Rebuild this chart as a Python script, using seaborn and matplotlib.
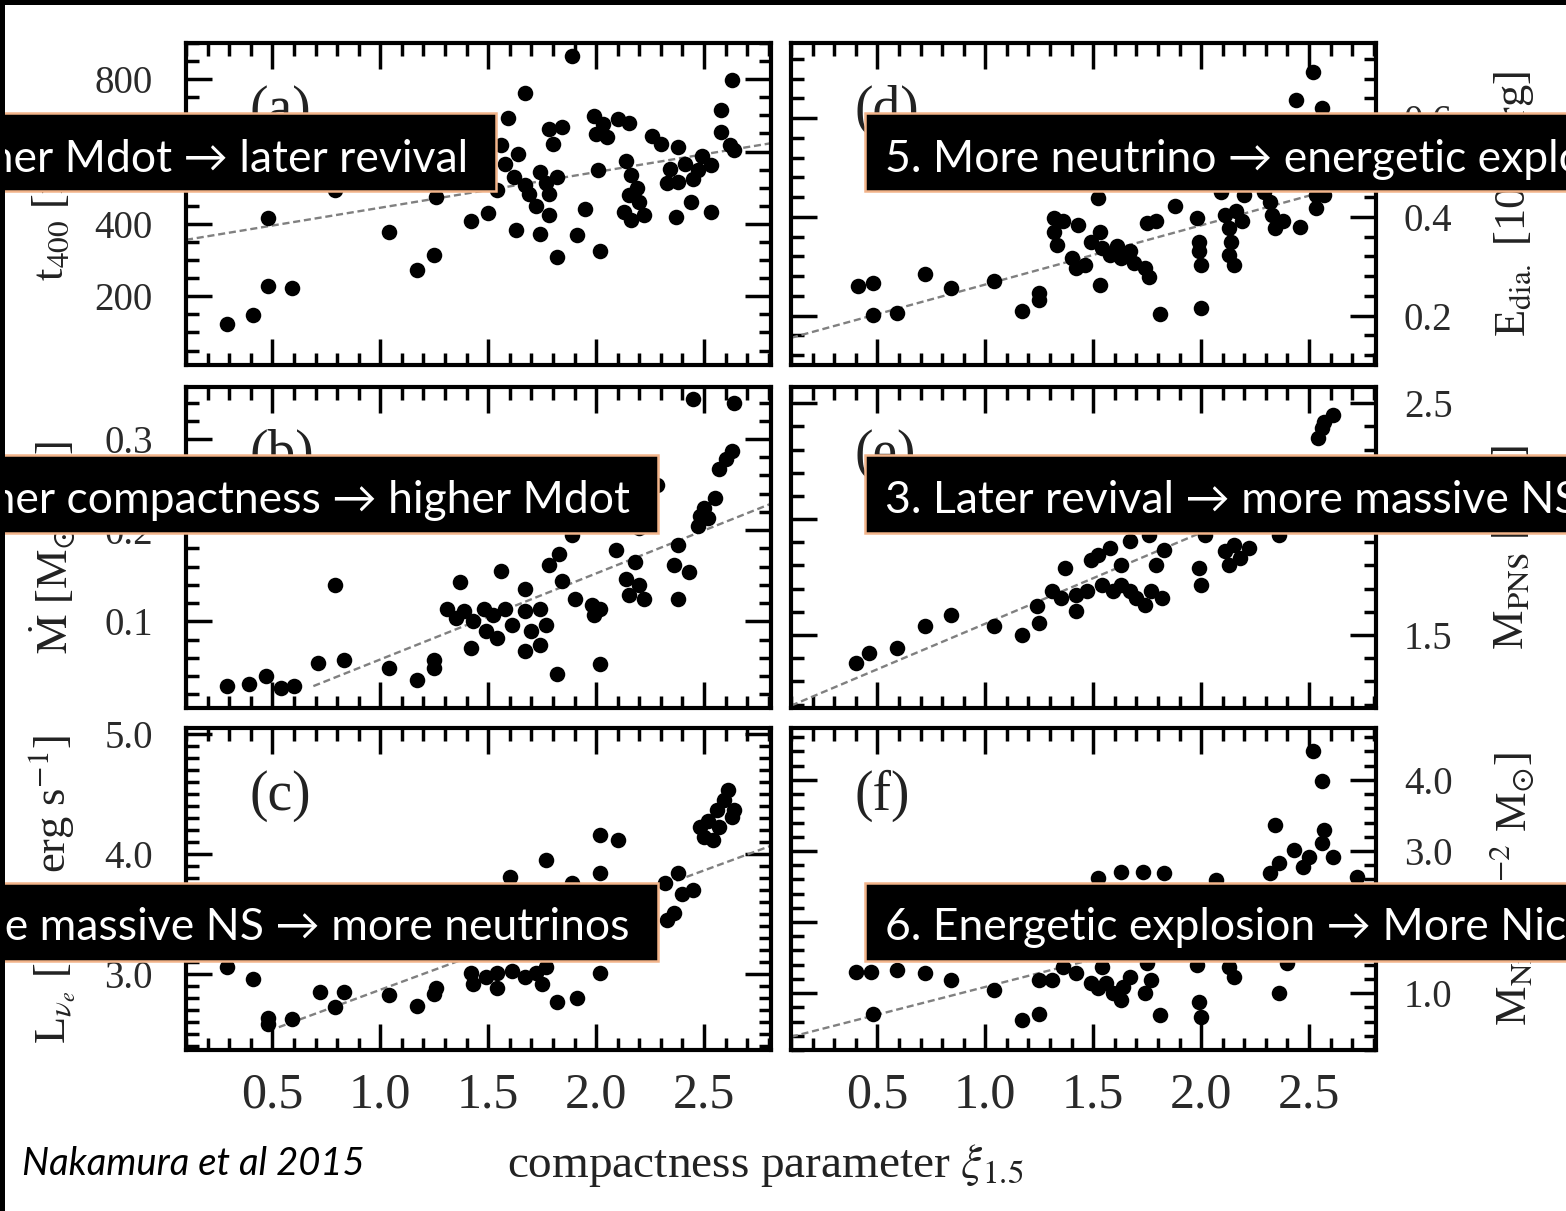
import matplotlib
matplotlib.use("Agg")
import matplotlib.pyplot as plt
from matplotlib.patches import Rectangle
from matplotlib.ticker import MultipleLocator, AutoMinorLocator, FormatStrFormatter
import seaborn as sns

# ---------------- data ----------------
# (a) t_400 [ms] vs compactness
a_x = [0.29, 0.41, 0.48, 0.59, 0.48, 0.79, 1.04, 1.17, 1.25, 1.26,
       1.42, 1.50, 1.54, 1.59, 1.67, 1.63, 1.74, 1.82, 1.91, 2.02,
       1.95, 1.72, 1.78, 1.89, 2.63, 2.58, 2.58, 2.62, 2.64, 1.56,
       1.58, 1.62, 1.64, 1.67, 1.69, 1.74, 1.77, 1.82, 1.78, 1.78,
       1.80, 1.84, 1.99, 2.00, 2.03, 2.05, 2.10, 2.15, 2.01, 2.14,
       2.16, 2.19, 2.20, 2.13, 2.16, 2.22, 2.15, 2.26, 2.30, 2.38,
       2.34, 2.33, 2.41, 2.47, 2.49, 2.53, 2.45, 2.37, 2.44, 2.53,
       2.38]
a_y = [124, 149, 229, 224, 416, 493, 377, 272, 313, 473,
       407, 429, 493, 692, 763, 384, 372, 308, 368, 324,
       441, 450, 425, 863, 799, 715, 653, 617, 603, 617,
       566, 530, 594, 507, 484, 544, 512, 530, 484, 662,
       621, 667, 699, 649, 676, 639, 690, 679, 548, 575,
       534, 498, 461, 434, 411, 425, 480, 644, 621, 612,
       553, 512, 566, 548, 589, 562, 525, 418, 461, 434,
       516]
fit_a_x = [0.10, 2.81]
fit_a_y = [356, 623]

# (b) Mdot [Msun/s]
b_x = [0.29, 0.39, 0.47, 0.54, 0.60, 0.71, 0.83, 0.79, 1.04, 1.17,
       1.25, 1.25, 1.37, 1.42, 1.56, 1.67, 1.82, 2.02, 1.31, 1.35,
       1.39, 1.43, 1.48, 1.49, 1.54, 1.52, 1.58, 1.61, 1.67, 1.70,
       1.74, 1.77, 1.67, 1.74, 1.78, 1.83, 1.84, 1.89, 1.90, 1.98,
       1.99, 2.02, 2.09, 2.14, 2.15, 2.18, 2.20, 2.22, 2.20, 2.28,
       2.38, 2.38, 2.43, 2.36, 2.47, 2.50, 2.52, 2.48, 2.55, 2.57,
       2.60, 2.63, 2.64, 2.45]
b_y = [0.029, 0.031, 0.040, 0.027, 0.029, 0.054, 0.058, 0.140, 0.049, 0.036,
       0.058, 0.049, 0.143, 0.071, 0.155, 0.136, 0.042, 0.053, 0.114, 0.104,
       0.111, 0.100, 0.114, 0.089, 0.082, 0.107, 0.114, 0.096, 0.111, 0.089,
       0.114, 0.096, 0.067, 0.074, 0.162, 0.174, 0.144, 0.195, 0.125, 0.118,
       0.107, 0.114, 0.178, 0.147, 0.129, 0.165, 0.140, 0.125, 0.202, 0.249,
       0.184, 0.125, 0.154, 0.162, 0.205, 0.224, 0.213, 0.216, 0.235, 0.267,
       0.278, 0.287, 0.340, 0.344]
fit_b_x = [0.69, 2.81]
fit_b_y = [0.029, 0.229]

# (c) L_nue [1e52 erg/s]
c_x = [0.29, 0.41, 0.48, 0.48, 0.59, 0.72, 0.83, 0.79, 1.04, 1.17,
       1.25, 1.26, 1.42, 1.43, 1.49, 1.54, 1.54, 1.61, 1.67, 1.72,
       1.75, 1.77, 1.82, 1.91, 2.02, 1.60, 1.77, 1.89, 2.02, 2.02,
       2.10, 2.32, 2.38, 2.40, 2.45, 2.36, 2.33, 2.48, 2.52, 2.56,
       2.59, 2.61, 2.63, 2.54, 2.50, 2.64, 2.57]
c_y = [3.06, 2.96, 2.64, 2.59, 2.63, 2.85, 2.85, 2.73, 2.83, 2.74,
       2.84, 2.89, 3.01, 2.92, 2.98, 2.89, 3.01, 3.03, 2.98, 3.01,
       2.92, 3.06, 2.77, 2.80, 3.01, 3.81, 3.95, 3.76, 3.84, 4.16,
       4.12, 3.76, 3.84, 3.67, 3.70, 3.51, 3.45, 4.23, 4.28, 4.37,
       4.45, 4.53, 4.31, 4.12, 4.14, 4.37, 4.23]
fit_c_x = [0.53, 2.81]
fit_c_y = [2.56, 4.07]

# (d) E_dia [1e51 erg]
d_x = [0.41, 0.48, 0.48, 0.59, 0.72, 0.84, 1.04, 1.17, 1.25, 1.25,
       1.53, 1.81, 2.00, 2.52, 2.44, 2.56, 1.52, 1.32, 1.36, 1.32,
       1.43, 1.33, 1.40, 1.42, 1.46, 1.49, 1.53, 1.54, 1.58, 1.61,
       1.63, 1.67, 1.69, 1.74, 1.76, 1.75, 1.79, 1.88, 1.98, 1.99,
       1.99, 2.00, 2.11, 2.13, 2.14, 2.13, 2.15, 2.16, 2.19, 2.20,
       2.32, 2.33, 2.34, 2.38, 2.46, 2.53, 2.53, 2.09, 2.29, 2.57]
d_y = [0.259, 0.266, 0.202, 0.205, 0.284, 0.256, 0.271, 0.209, 0.232, 0.246,
       0.263, 0.203, 0.216, 0.694, 0.636, 0.620, 0.438, 0.397, 0.391, 0.370,
       0.384, 0.343, 0.316, 0.296, 0.303, 0.350, 0.370, 0.337, 0.323, 0.340,
       0.316, 0.330, 0.306, 0.296, 0.279, 0.387, 0.391, 0.421, 0.397, 0.350,
       0.330, 0.303, 0.404, 0.377, 0.350, 0.323, 0.303, 0.411, 0.391, 0.444,
       0.431, 0.404, 0.377, 0.391, 0.380, 0.418, 0.444, 0.451, 0.451, 0.444]
fit_d_x = [0.10, 2.81]
fit_d_y = [0.155, 0.480]

# (e) M_PNS [Msun]
e_x = [0.40, 0.46, 0.59, 0.72, 0.84, 1.04, 1.17, 1.25, 1.24, 1.31,
       1.35, 1.37, 1.42, 1.42, 1.47, 1.49, 1.52, 1.54, 1.58, 1.59,
       1.63, 1.63, 1.67, 1.67, 1.70, 1.74, 1.77, 1.79, 1.82, 1.83,
       1.99, 2.00, 2.11, 2.15, 2.18, 2.22, 2.13, 2.36, 2.54, 2.56,
       2.57, 2.61, 2.02, 1.76]
e_y = [1.379, 1.422, 1.444, 1.537, 1.588, 1.537, 1.502, 1.552, 1.624, 1.688,
       1.660, 1.789, 1.602, 1.674, 1.688, 1.825, 1.846, 1.717, 1.875, 1.688,
       1.717, 1.803, 1.904, 1.688, 1.660, 1.631, 1.688, 1.803, 1.660, 1.868,
       1.789, 1.717, 1.861, 1.889, 1.832, 1.875, 1.803, 1.932, 2.349, 2.392,
       2.421, 2.450, 1.932, 1.932]
fit_e_x = [0.10, 2.81]
fit_e_y = [1.195, 2.26]

# (f) M_Ni [1e-2 Msun]
f_x = [0.40, 0.47, 0.59, 0.72, 0.84, 0.48, 1.04, 1.17, 1.25, 1.25,
       1.31, 1.36, 1.42, 1.49, 1.52, 1.56, 1.59, 1.63, 1.64, 1.67,
       1.74, 1.77, 1.75, 1.54, 1.63, 1.73, 1.83, 1.52, 1.81, 1.99,
       2.00, 1.98, 2.13, 2.15, 2.07, 2.36, 2.40, 2.34, 2.32, 2.36,
       2.43, 2.47, 2.50, 2.56, 2.57, 2.61, 2.56, 2.52, 2.72]
f_y = [1.30, 1.30, 1.32, 1.28, 1.18, 0.71, 1.04, 0.62, 0.71, 1.18,
       1.18, 1.37, 1.28, 1.14, 1.07, 1.14, 1.00, 0.90, 1.09, 1.23,
       1.00, 1.18, 1.42, 1.37, 2.71, 2.71, 2.69, 2.62, 0.69, 0.88,
       0.67, 1.39, 1.37, 1.23, 2.59, 1.00, 1.42, 3.37, 2.69, 2.83,
       3.01, 2.78, 2.92, 3.11, 3.30, 2.92, 3.99, 4.40, 2.64]
fit_f_x = [0.10, 2.81]
fit_f_y = [0.385, 2.50]

x_ticks_fmt = "%.1f"
xlabel_text = r"compactness parameter $\xi_{1.5}$"
box_texts = [
    "2. Higher Mdot \u2192 later revival",
    "1. Higher compactness \u2192 higher Mdot",
    "4. More massive NS \u2192 more neutrinos",
    "3. Later revival \u2192 more massive NS",
    "5. More neutrino \u2192 energetic explosion",
    "6. Energetic explosion \u2192 More Nickel",
]
credit = "Nakamura et al 2015"

# ---------------- style ----------------
sns.set_theme(style="ticks")
plt.rcParams["font.family"] = ["Liberation Serif", "DejaVu Serif"]
plt.rcParams["mathtext.fontset"] = "stix"

W, H = 1566, 1211
fig = plt.figure(figsize=(W / 100, H / 100), dpi=100, facecolor="white")


def rect(px0, py0, px1, py1):
    return [px0 / W, 1 - py1 / H, (px1 - px0) / W, (py1 - py0) / H]


LX0, LX1 = 186, 771
RX0, RX1 = 791, 1376
ROWS = [(43, 365), (387, 708), (728, 1050)]

panels = [
    dict(x=a_x, y=a_y, fx=fit_a_x, fy=fit_a_y, col="L", row=0, ylim=(10, 900),
         major=200, nminor=4, fmt="%d", letter="(a)", ylabel=r"t$_{400}$ [ms]"),
    dict(x=b_x, y=b_y, fx=fit_b_x, fy=fit_b_y, col="L", row=1, ylim=(0.005, 0.357),
         major=0.1, nminor=5, fmt="%.1f", letter="(b)",
         ylabel=r"$\dot{\rm M}$ [M$_{\odot}$ s$^{-1}$]"),
    dict(x=c_x, y=c_y, fx=fit_c_x, fy=fit_c_y, col="L", row=2, ylim=(2.37, 5.05),
         major=1.0, nminor=10, fmt="%.1f", letter="(c)",
         ylabel=r"L$_{\nu_e}$ [10$^{52}$ erg s$^{-1}$]"),
    dict(x=d_x, y=d_y, fx=fit_d_x, fy=fit_d_y, col="R", row=0, ylim=(0.10, 0.752),
         major=0.2, nminor=5, fmt="%.1f", letter="(d)",
         ylabel=r"E$_{\rm dia.}$ [10$^{51}$ erg]"),
    dict(x=e_x, y=e_y, fx=fit_e_x, fy=fit_e_y, col="R", row=1, ylim=(1.185, 2.57),
         major=0.5, nminor=5, fmt="%.1f", letter="(e)",
         ylabel=r"M$_{\rm PNS}$ [M$_{\odot}$]"),
    dict(x=f_x, y=f_y, fx=fit_f_x, fy=fit_f_y, col="R", row=2, ylim=(0.2, 4.73),
         major=1.0, nminor=5, fmt="%.1f", letter="(f)",
         ylabel=r"M$_{\rm Ni}$ [10$^{-2}$ M$_{\odot}$]"),
]

tick_col = "#2a2a2a"
for p in panels:
    x0, x1 = (LX0, LX1) if p["col"] == "L" else (RX0, RX1)
    y0, y1 = ROWS[p["row"]]
    ax = fig.add_axes(rect(x0, y0, x1, y1))
    ax.set_facecolor("white")
    n = min(len(p["x"]), len(p["y"]))
    sns.scatterplot(x=p["x"][:n], y=p["y"][:n], ax=ax, color="black", s=125,
                    linewidth=0, zorder=3)
    ax.plot(p["fx"], p["fy"], color="#808080", lw=1.7, ls=(0, (3, 1.6)), zorder=2)
    ax.set_xlim(0.10, 2.81)
    ax.set_ylim(*p["ylim"])
    ax.xaxis.set_major_locator(MultipleLocator(0.5))
    ax.xaxis.set_minor_locator(AutoMinorLocator(5))
    ax.xaxis.set_major_formatter(FormatStrFormatter(x_ticks_fmt))
    ax.yaxis.set_major_locator(MultipleLocator(p["major"]))
    ax.yaxis.set_minor_locator(AutoMinorLocator(p["nminor"]))
    ax.yaxis.set_major_formatter(FormatStrFormatter(p["fmt"]))
    ax.tick_params(which="both", direction="in", top=True, bottom=True,
                   left=True, right=True, width=2.5, color="black",
                   labelcolor=tick_col)
    ax.tick_params(which="major", length=19)
    ax.tick_params(which="minor", length=9)
    ax.tick_params(axis="x", labelbottom=(p["row"] == 2), labeltop=False,
                   labelsize=36, pad=16)
    if p["col"] == "L":
        ax.tick_params(axis="y", labelleft=True, labelright=False,
                       labelsize=28, pad=24)
    else:
        ax.tick_params(axis="y", labelleft=False, labelright=True,
                       labelsize=28, pad=20)
    for sp in ax.spines.values():
        sp.set_linewidth(3)
        sp.set_color("black")
    ax.set_xlabel("")
    ax.set_ylabel("")
    ax.text(0.108, 0.87, p["letter"], transform=ax.transAxes, fontsize=40,
            ha="left", va="top", color="#222222", zorder=4)
    lab_x = 52 if p["col"] == "L" else 1512
    fig.text(lab_x / W, 1 - (y0 + y1) / 2 / H, p["ylabel"], rotation=90,
             ha="center", va="center", fontsize=32, color="#222222")

fig.text(765 / W, 1 - 1177 / H, xlabel_text, ha="center", va="baseline",
         fontsize=34, color="#222222")

# ---------------- slide overlay ----------------
edge = "#f2b48a"
box_specs = [
    # (x0, y0, x1, y1, text x, baseline y, align)
    (-20, 113, 496, 191, 468, 172, "right"),
    (-20, 455, 658, 533, 630, 513, "right"),
    (-20, 883, 658, 961, 630, 940, "right"),
    (865, 455, 1600, 533, 885, 513, "left"),
    (865, 113, 1600, 191, 885, 172, "left"),
    (865, 883, 1600, 961, 885, 940, "left"),
]
for (bx0, by0, bx1, by1, tx, ty, al), txt in zip(box_specs, box_texts):
    fig.add_artist(Rectangle((bx0 / W, 1 - by1 / H), (bx1 - bx0) / W, (by1 - by0) / H,
                             transform=fig.transFigure, facecolor="black",
                             edgecolor=edge, linewidth=1.8, zorder=10))
    fig.text(tx / W, 1 - ty / H, txt, color="white", fontsize=32,
             family=["Lato", "DejaVu Sans"], ha=al, va="baseline", zorder=11)

fig.text(22 / W, 1 - 1175 / H, credit, fontsize=27.5, style="italic",
         family=["Lato", "DejaVu Sans"], color="black", ha="left", va="baseline")

# black slide border (top and left)
fig.add_artist(Rectangle((0, 1 - 5 / H), 1, 5 / H, transform=fig.transFigure,
                         facecolor="black", edgecolor="none", zorder=12))
fig.add_artist(Rectangle((0, 0), 5 / W, 1, transform=fig.transFigure,
                         facecolor="black", edgecolor="none", zorder=12))

fig.savefig("out.png", dpi=100, facecolor="white")
